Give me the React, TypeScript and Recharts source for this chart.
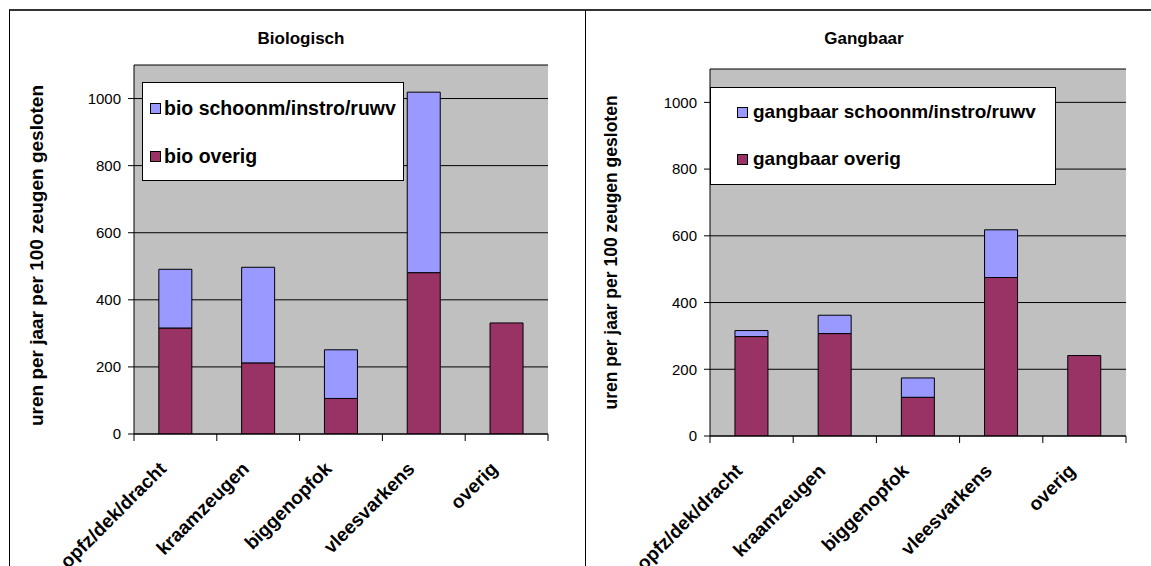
import React from "react";
import { BarChart, Bar, XAxis, YAxis, CartesianGrid, Legend } from "recharts";

const categories = ["opfz/dek/dracht", "kraamzeugen", "biggenopfok", "vleesvarkens", "overig"];
const bioOverig = [316, 212, 106, 481, 331];
const bioSchoonm = [175, 285, 145, 538, 0];
const gangbaarOverig = [298, 307, 116, 475, 241];
const gangbaarSchoonm = [18, 55, 58, 143, 0];
const yTicks = [0, 200, 400, 600, 800, 1000];

const OVERIG = "#993366";
const SCHOONM = "#9999FF";
const FONT = "'Liberation Sans', Arial, sans-serif";
const Y_LABEL = "uren per jaar per 100 zeugen gesloten";

// category label + tick marks on the category boundaries (Excel style)
const CatTick = (props: any) => {
  const { x, y, payload, index, visibleTicksCount, width } = props;
  const half = Number(width) / Number(visibleTicksCount) / 2;
  const ok = Number.isFinite(half);
  const ax = x - 8;
  const ay = y + 36;
  return (
    <g>
      {ok && <path d={`M${x - half},${y}v7`} stroke="#000" strokeWidth={1} fill="none" />}
      {ok && index === visibleTicksCount - 1 && <path d={`M${x + half},${y}v7`} stroke="#000" strokeWidth={1} fill="none" />}
      <text x={ax} y={ay} transform={`rotate(-45 ${ax} ${ay})`} textAnchor="end" fontSize={19} fontWeight="bold" fontFamily={FONT} fill="#000">
        {payload.value}
      </text>
    </g>
  );
};

function Panel({ left, width, title, titleX, data, names, margin, xHeight, legendBox, labelDx, labelDy, labelSize }: any) {
  const LegendBox = (props: any) => {
    const items = [...(props.payload || [])].reverse();
    return (
      <div style={{ width: legendBox.w, height: legendBox.h, boxSizing: "border-box", border: "1px solid #000", background: "#fff", position: "relative" }}>
        {items.map((it: any, i: number) => (
          <div key={it.value} style={{ position: "absolute", left: legendBox.sq, top: legendBox.rows[i] - 12, height: 24, display: "flex", alignItems: "center", whiteSpace: "nowrap" }}>
            <span style={{ width: 11, height: 11, border: "1px solid #000", background: it.color, boxSizing: "border-box", display: "inline-block" }} />
            <span style={{ marginLeft: legendBox.gap, fontSize: legendBox.font, fontWeight: "bold", fontFamily: FONT, color: "#000" }}>{it.value}</span>
          </div>
        ))}
      </div>
    );
  };

  return (
    <div style={{ position: "absolute", left, top: 11, width, height: 555 }}>
      <div style={{ position: "absolute", left: titleX - 100, top: 18, width: 200, textAlign: "center", fontSize: 17, fontWeight: "bold", fontFamily: FONT, color: "#000" }}>
        {title}
      </div>
      <BarChart width={width} height={555} data={data} margin={margin} barCategoryGap="30%">
        <CartesianGrid vertical={false} stroke="#000" fill="#C0C0C0" />
        <XAxis dataKey="name" interval={0} axisLine={{ stroke: "#000" }} tickLine={false} tickSize={0} tickMargin={0} height={xHeight} tick={<CatTick />} />
        <XAxis xAxisId="t" orientation="top" dataKey="name" height={0} tick={false} tickLine={false} axisLine={{ stroke: "#808080" }} />
        <YAxis
          width={124}
          domain={[0, 1100]}
          ticks={yTicks}
          allowDataOverflow
          tickSize={6}
          tickMargin={7}
          axisLine={{ stroke: "#000" }}
          tickLine={{ stroke: "#000" }}
          tick={{ fontSize: 15, fill: "#000", fontFamily: FONT }}
          label={(p: any) => {
            const vb = p.viewBox;
            const cx = vb.x + labelDx;
            const cy = vb.y + vb.height / 2 + labelDy;
            return (
              <text x={cx} y={cy} transform={`rotate(-90 ${cx} ${cy})`} textAnchor="middle" dominantBaseline="central" fontSize={labelSize} fontWeight="bold" fontFamily={FONT} fill="#000">
                {Y_LABEL}
              </text>
            );
          }}
        />
        <YAxis yAxisId="r" orientation="right" width={0} domain={[0, 1100]} tick={false} tickLine={false} axisLine={{ stroke: "#808080" }} />
        <Legend layout="vertical" align="center" verticalAlign="middle" content={<LegendBox />} wrapperStyle={{ left: legendBox.x, top: legendBox.y, width: legendBox.w, height: legendBox.h }} />
        <Bar dataKey="overig" name={names[0]} stackId="a" fill={OVERIG} stroke="#000" strokeWidth={1} isAnimationActive={false} />
        <Bar dataKey="schoonm" name={names[1]} stackId="a" fill={SCHOONM} stroke="#000" strokeWidth={1} isAnimationActive={false} />
      </BarChart>
    </div>
  );
}

export default function App() {
  const bioData = categories.map((name, i) => ({ name, overig: bioOverig[i], schoonm: bioSchoonm[i] }));
  const gangData = categories.map((name, i) => ({ name, overig: gangbaarOverig[i], schoonm: gangbaarSchoonm[i] }));

  return (
    <div style={{ position: "absolute", left: 0, top: 0, width: 1151, height: 566, overflow: "hidden", background: "#fff" }}>
      <div style={{ position: "absolute", left: 9, top: 9, width: 1142, height: 2, background: "#333" }} />
      <div style={{ position: "absolute", left: 9, top: 10, width: 1, height: 556, background: "#000" }} />
      <div style={{ position: "absolute", left: 585, top: 10, width: 1, height: 556, background: "#000" }} />
      <Panel
        left={10}
        width={574}
        title="Biologisch"
        titleX={291}
        data={bioData}
        names={["bio overig", "bio schoonm/instro/ruwv"]}
        margin={{ top: 54, right: 36, left: 0, bottom: 0 }}
        xHeight={132}
        legendBox={{ x: 132, y: 71, w: 262, h: 99, sq: 7, gap: 3, font: 19.5, rows: [25, 73] }}
        labelDx={26}
        labelDy={6}
        labelSize={19}
      />
      <Panel
        left={586}
        width={565}
        title="Gangbaar"
        titleX={278}
        data={gangData}
        names={["gangbaar overig", "gangbaar schoonm/instro/ruwv"]}
        margin={{ top: 58, right: 25, left: 0, bottom: 0 }}
        xHeight={130}
        legendBox={{ x: 124, y: 76, w: 346, h: 98, sq: 26, gap: 5, font: 19, rows: [24, 71] }}
        labelDx={25}
        labelDy={0}
        labelSize={17.5}
      />
    </div>
  );
}
